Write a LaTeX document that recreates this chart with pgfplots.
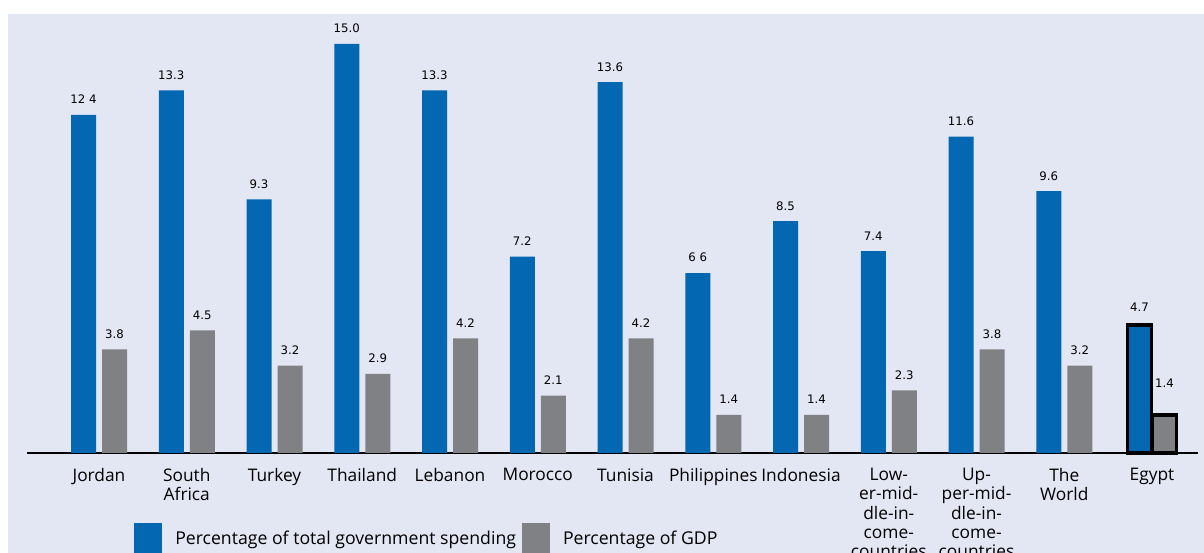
\documentclass[border=0pt]{standalone}
\usepackage{pgfplots}
\pgfplotsset{compat=1.18}
\usepackage{fontspec}
\setmainfont{Open Sans}
\newfontfamily\catf{Open Sans}
\newfontfamily\dejavu{DejaVu Sans}
\definecolor{bgc}{RGB}{227,230,243}
\definecolor{bblue}{RGB}{4,103,178}
\definecolor{bgray}{RGB}{128,129,133}
\begin{document}
\begin{tikzpicture}
\fill[white] (0,0) rectangle (903pt,414.75pt);
\fill[bgc] (6pt,0) rectangle (903pt,404.25pt);
\begin{axis}[
  at={(20.25pt,75pt)}, anchor=south west,
  scale only axis, width=878.25pt, height=329.25pt,
  xmin=-0.8205, xmax=12.524, ymin=0, ymax=16.1,
  axis x line*=bottom, axis y line=none,
  x axis line style={black, line width=1.1pt},
  xtick={0,...,12}, major tick length=0pt,
  xticklabels={Jordan, South\\Africa, Turkey, Thailand, Lebanon, Morocco, Tunisia, Philippines, Indonesia, Low-\\er-mid-\\dle-in-\\come-\\countries, Up-\\per-mid-\\dle-in-\\come-\\countries, The\\World, Egypt},
  x tick label style={font=\fontsize{13}{14.4}\selectfont\catf, align=center, anchor=north, yshift=-8pt},
  ybar, bar width=18.75pt, clip=false,
  nodes near coords, point meta=explicit symbolic,
  every node near coord/.append style={font=\fontsize{8.8}{10}\selectfont\dejavu, inner sep=0pt, anchor=south, yshift=8pt},
  legend columns=2,
  legend image code/.code={\fill[#1] (0pt,-11.25pt) rectangle (21pt,11.25pt);},
  legend style={at={(axis description cs:0.09138,-0.15945)}, anchor=north west, draw=none, fill=none, inner sep=0pt, font=\fontsize{13.25}{14}\selectfont\catf, nodes={inner sep=0pt},
    /tikz/every odd column/.append style={column sep=9.75pt},
    /tikz/every even column/.append style={column sep=4.5pt}},
]
\addplot[fill=bblue, draw=none, bar shift=-11.625pt] coordinates {
(0,12.4) [12 4]
(1,13.3) [13.3]
(2,9.3) [9.3]
(3,15.0) [15.0]
(4,13.3) [13.3]
(5,7.2) [7.2]
(6,13.6) [13.6]
(7,6.6) [6 6]
(8,8.5) [8.5]
(9,7.4) [7.4]
(10,11.6) [11.6]
(11,9.6) [9.6]
};
\addlegendentry{Percentage of total government spending}
\addplot[fill=bgray, draw=none, bar shift=11.625pt] coordinates {
(0,3.8) [3.8]
(1,4.5) [4.5]
(2,3.2) [3.2]
(3,2.9) [2.9]
(4,4.2) [4.2]
(5,2.1) [2.1]
(6,4.2) [4.2]
(7,1.4) [1.4]
(8,1.4) [1.4]
(9,2.3) [2.3]
(10,3.8) [3.8]
(11,3.2) [3.2]
};
\addlegendentry{Percentage of GDP}
\addplot[fill=bblue, draw=black, line width=2.6pt, bar width=18pt, bar shift=-9.4pt, forget plot,
  every node near coord/.append style={yshift=1pt}] coordinates {(12,4.7) [4.7]};
\addplot[fill=bgray, draw=black, line width=2.6pt, bar width=18pt, bar shift=9.4pt, forget plot,
  every node near coord/.append style={yshift=11pt}] coordinates {(12,1.4) [1.4]};
\end{axis}
\pgfresetboundingbox
\path[use as bounding box] (0,0) rectangle (903pt,414.75pt);
\end{tikzpicture}
\end{document}
